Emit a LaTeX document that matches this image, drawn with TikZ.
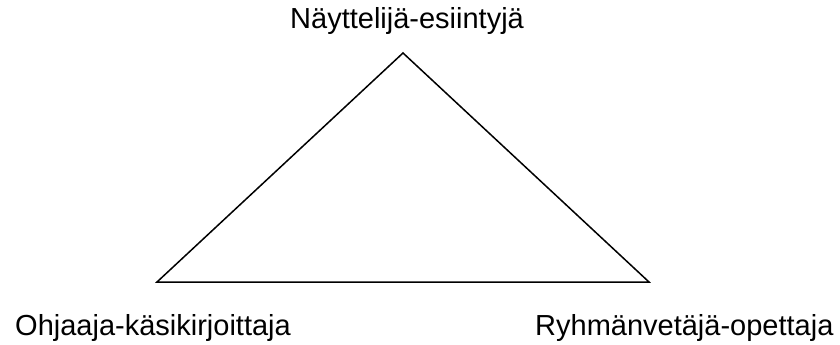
\documentclass[tikz,border=0pt]{standalone}
\usepackage{fontspec}
\setmainfont{Liberation Sans}
\begin{document}
\begin{tikzpicture}[x=1pt,y=-1pt,
  lbl/.style={anchor=base west,inner sep=0pt,font=\fontsize{29}{34}\selectfont},
  edge/.style={draw=black,line width=1.5pt,line join=miter}]
\useasboundingbox (0,0) rectangle (840,345);
\coordinate (top) at (403,53);
\coordinate (left) at (157,282);
\coordinate (right) at (649,282);
\draw[edge] (top) -- (left) -- (right) -- cycle;
\node[lbl] (ltop) at (290,29) {Näyttelijä-esiintyjä};
\node[lbl] (lleft) at (15,335) {Ohjaaja-käsikirjoittaja};
\node[lbl] (lright) at (535,335) {Ryhmänvetäjä-opettaja};
\end{tikzpicture}
\end{document}
